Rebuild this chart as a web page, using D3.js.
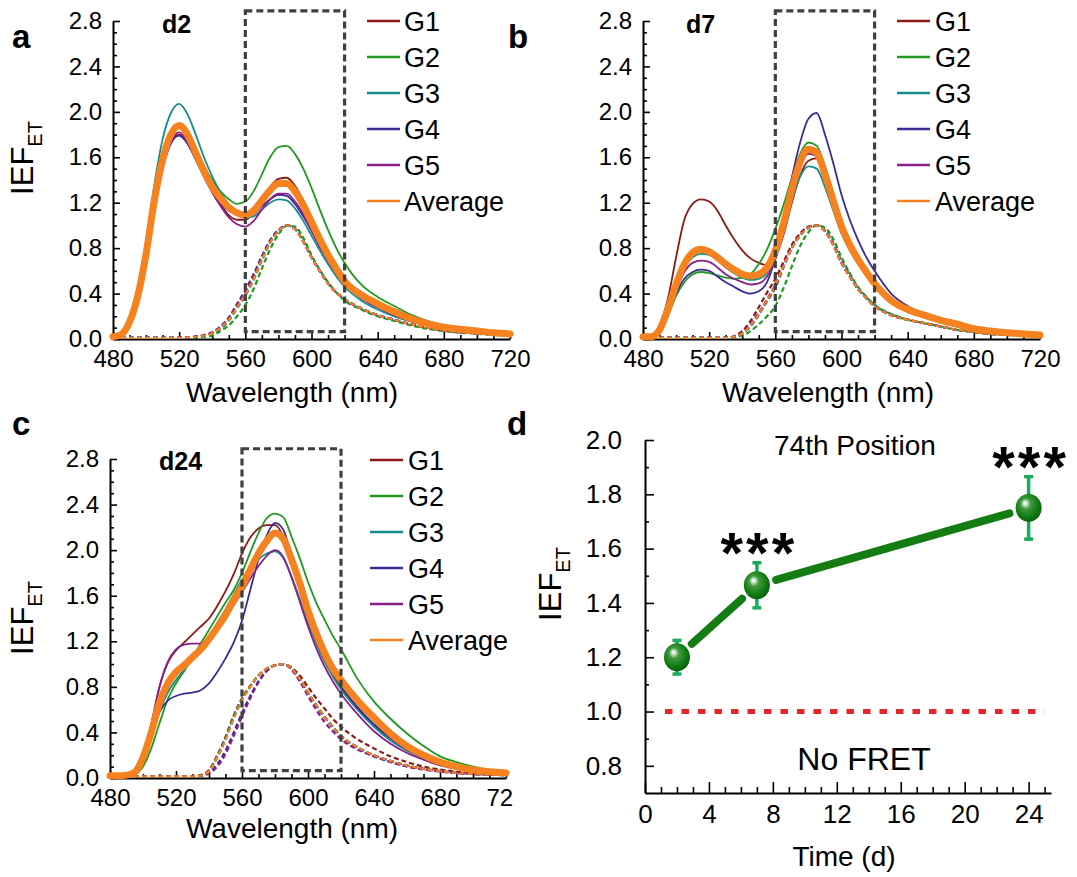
<!DOCTYPE html>
<html><head><meta charset="utf-8">
<script src="https://cdn.jsdelivr.net/npm/d3@7"></script>
<style>
body{margin:0;background:#fff}
svg{display:block}
text{font-family:"Liberation Sans",Arial,Helvetica,sans-serif;fill:#000}
</style>
</head><body>
<svg id="chart" width="1077" height="877"></svg>
<script>
// ---------- DATA ----------
const wavelength = [480,485,490,495,500,505,510,515,520,525,530,535,540,545,550,555,560,565,570,575,580,585,590,595,600,605,610,615,620,630,640,650,660,670,680,690,700,710,720];
const seriesNames = ["G1","G2","G3","G4","G5","Average"];
const seriesColors = ["#8c1a17","#1f9a1f","#158c8c","#3b2b96","#8a1f8c","#f5821f"];
const wlTicks = [480,520,560,600,640,680,720];
const ieTicks = [0.0,0.4,0.8,1.2,1.6,2.0,2.4,2.8];
const boxNm = [560,620];
const boxVal = [0.065,2.89];

// d2 emission (IEF_ET)
const d2_G1 = [0.02,0.04,0.15,0.37,0.73,1.18,1.52,1.74,1.80,1.74,1.60,1.45,1.31,1.19,1.09,1.05,1.05,1.11,1.22,1.34,1.41,1.42,1.35,1.22,1.06,0.90,0.76,0.63,0.53,0.39,0.30,0.23,0.175,0.13,0.10,0.08,0.065,0.05,0.04];
const d2_G2 = [0.02,0.03,0.13,0.35,0.72,1.18,1.55,1.78,1.86,1.80,1.66,1.52,1.40,1.30,1.23,1.19,1.21,1.30,1.45,1.60,1.69,1.70,1.63,1.50,1.33,1.14,0.96,0.80,0.67,0.48,0.37,0.29,0.215,0.16,0.12,0.09,0.07,0.055,0.045];
const d2_G3 = [0.02,0.04,0.16,0.42,0.85,1.36,1.76,1.99,2.07,1.98,1.80,1.60,1.43,1.29,1.18,1.11,1.07,1.08,1.14,1.20,1.23,1.22,1.15,1.04,0.91,0.78,0.66,0.55,0.46,0.34,0.26,0.20,0.155,0.12,0.095,0.075,0.06,0.05,0.04];
const d2_G4 = [0.02,0.04,0.14,0.36,0.72,1.16,1.50,1.72,1.79,1.72,1.58,1.43,1.30,1.20,1.13,1.11,1.08,1.10,1.17,1.23,1.27,1.26,1.19,1.08,0.95,0.81,0.69,0.58,0.49,0.36,0.28,0.21,0.16,0.12,0.095,0.075,0.06,0.05,0.04];
const d2_G5 = [0.02,0.04,0.14,0.36,0.72,1.17,1.52,1.74,1.82,1.74,1.59,1.43,1.29,1.17,1.07,1.01,0.99,1.04,1.14,1.23,1.28,1.28,1.21,1.10,0.96,0.82,0.69,0.58,0.49,0.36,0.28,0.21,0.16,0.12,0.095,0.075,0.06,0.05,0.04];
const d2_Avg = [0.02,0.04,0.15,0.38,0.75,1.22,1.58,1.80,1.88,1.80,1.64,1.48,1.34,1.24,1.16,1.11,1.09,1.13,1.22,1.31,1.37,1.37,1.30,1.18,1.03,0.88,0.74,0.62,0.51,0.39,0.31,0.24,0.18,0.135,0.105,0.085,0.07,0.055,0.045];
// d2 acceptor reference (dashed)
const d2_G1_ref = [0.01,0.01,0.01,0.01,0.01,0.01,0.01,0.01,0.01,0.015,0.02,0.03,0.05,0.10,0.17,0.28,0.39,0.53,0.70,0.85,0.95,1.00,0.97,0.86,0.72,0.60,0.49,0.41,0.35,0.27,0.21,0.17,0.13,0.10,0.075,0.06,0.05,0.04,0.035];
const d2_G2_ref = [0.01,0.01,0.01,0.01,0.01,0.01,0.01,0.01,0.01,0.01,0.015,0.02,0.03,0.07,0.12,0.20,0.30,0.44,0.62,0.79,0.92,0.995,0.99,0.89,0.74,0.61,0.50,0.41,0.34,0.26,0.20,0.16,0.12,0.09,0.07,0.055,0.045,0.035,0.03];
const d2_G3_ref = [0.01,0.01,0.01,0.01,0.01,0.01,0.01,0.01,0.01,0.015,0.02,0.03,0.05,0.09,0.16,0.27,0.38,0.52,0.69,0.85,0.95,1.00,0.97,0.86,0.72,0.60,0.49,0.41,0.35,0.27,0.21,0.17,0.13,0.10,0.075,0.06,0.05,0.04,0.035];
const d2_G4_ref = [0.01,0.01,0.01,0.01,0.01,0.01,0.01,0.01,0.01,0.015,0.02,0.035,0.06,0.11,0.19,0.31,0.43,0.57,0.73,0.87,0.96,1.00,0.97,0.86,0.72,0.60,0.49,0.41,0.35,0.27,0.21,0.17,0.13,0.10,0.075,0.06,0.05,0.04,0.035];
const d2_G5_ref = [0.01,0.01,0.01,0.01,0.01,0.01,0.01,0.01,0.01,0.015,0.02,0.03,0.055,0.10,0.18,0.30,0.41,0.55,0.71,0.86,0.95,1.00,0.97,0.86,0.72,0.60,0.49,0.41,0.35,0.27,0.21,0.17,0.13,0.10,0.075,0.06,0.05,0.04,0.035];
const d2_Avg_ref = [0.01,0.01,0.01,0.01,0.01,0.01,0.01,0.01,0.01,0.015,0.02,0.03,0.05,0.10,0.17,0.28,0.39,0.53,0.70,0.85,0.95,1.00,0.97,0.86,0.72,0.60,0.49,0.41,0.35,0.27,0.21,0.17,0.13,0.10,0.075,0.06,0.05,0.04,0.035];

// d7 emission
const d7_G1 = [0.02,0.03,0.12,0.35,0.72,1.05,1.19,1.23,1.21,1.13,1.00,0.88,0.78,0.71,0.67,0.65,0.72,0.92,1.20,1.44,1.57,1.59,1.46,1.24,1.00,0.83,0.68,0.56,0.46,0.32,0.24,0.19,0.15,0.11,0.085,0.065,0.05,0.04,0.03];
const d7_G2 = [0.02,0.02,0.06,0.20,0.38,0.50,0.57,0.59,0.58,0.56,0.54,0.53,0.54,0.57,0.66,0.79,0.97,1.18,1.42,1.63,1.73,1.70,1.52,1.28,1.04,0.86,0.72,0.60,0.50,0.35,0.27,0.21,0.165,0.13,0.095,0.075,0.06,0.045,0.035];
const d7_G3 = [0.02,0.02,0.08,0.25,0.46,0.63,0.72,0.75,0.74,0.69,0.63,0.58,0.54,0.52,0.53,0.58,0.72,0.95,1.22,1.43,1.52,1.50,1.34,1.13,0.93,0.78,0.66,0.56,0.47,0.34,0.26,0.21,0.165,0.13,0.095,0.075,0.06,0.045,0.035];
const d7_G4 = [0.02,0.02,0.07,0.22,0.40,0.53,0.59,0.61,0.60,0.55,0.50,0.46,0.42,0.40,0.42,0.50,0.72,1.05,1.42,1.73,1.94,1.99,1.80,1.55,1.27,1.05,0.87,0.72,0.60,0.40,0.29,0.22,0.17,0.13,0.10,0.075,0.06,0.045,0.035];
const d7_G5 = [0.02,0.02,0.08,0.24,0.43,0.59,0.67,0.69,0.68,0.63,0.57,0.53,0.50,0.48,0.49,0.55,0.70,0.96,1.27,1.52,1.63,1.61,1.44,1.21,0.99,0.83,0.69,0.58,0.48,0.34,0.26,0.21,0.165,0.13,0.095,0.075,0.06,0.045,0.035];
const d7_Avg = [0.02,0.02,0.08,0.26,0.48,0.66,0.76,0.79,0.77,0.72,0.66,0.61,0.57,0.555,0.57,0.63,0.78,1.02,1.32,1.56,1.67,1.64,1.45,1.22,0.99,0.83,0.70,0.59,0.49,0.34,0.26,0.21,0.165,0.13,0.09,0.07,0.055,0.045,0.035];
// d7 acceptor reference
const d7_G1_ref = [0.01,0.01,0.01,0.01,0.01,0.01,0.01,0.01,0.01,0.01,0.01,0.025,0.07,0.16,0.28,0.41,0.53,0.68,0.83,0.93,0.99,1.00,0.95,0.83,0.67,0.55,0.44,0.36,0.29,0.21,0.17,0.14,0.11,0.08,0.06,0.045,0.04,0.035,0.03];
const d7_G2_ref = [0.01,0.01,0.01,0.01,0.01,0.01,0.01,0.01,0.01,0.01,0.01,0.015,0.03,0.07,0.13,0.20,0.29,0.45,0.64,0.82,0.94,1.00,0.98,0.88,0.72,0.58,0.46,0.37,0.30,0.22,0.17,0.14,0.11,0.08,0.06,0.045,0.04,0.035,0.03];
const d7_G3_ref = [0.01,0.01,0.01,0.01,0.01,0.01,0.01,0.01,0.01,0.01,0.01,0.02,0.05,0.11,0.21,0.33,0.45,0.63,0.80,0.91,0.98,1.00,0.96,0.85,0.69,0.57,0.45,0.37,0.30,0.22,0.17,0.14,0.11,0.08,0.06,0.045,0.04,0.035,0.03];
const d7_G4_ref = [0.01,0.01,0.01,0.01,0.01,0.01,0.01,0.01,0.01,0.01,0.01,0.02,0.05,0.12,0.22,0.34,0.46,0.64,0.80,0.91,0.98,1.00,0.95,0.83,0.67,0.55,0.44,0.36,0.29,0.21,0.17,0.14,0.11,0.08,0.06,0.045,0.04,0.035,0.03];
const d7_G5_ref = [0.01,0.01,0.01,0.01,0.01,0.01,0.01,0.01,0.01,0.01,0.01,0.02,0.055,0.13,0.23,0.35,0.48,0.65,0.81,0.92,0.98,1.00,0.95,0.83,0.67,0.55,0.44,0.36,0.29,0.21,0.17,0.14,0.11,0.08,0.06,0.045,0.04,0.035,0.03];
const d7_Avg_ref = [0.01,0.01,0.01,0.01,0.01,0.01,0.01,0.01,0.01,0.01,0.01,0.02,0.05,0.12,0.22,0.34,0.47,0.64,0.80,0.91,0.98,1.00,0.95,0.83,0.67,0.55,0.44,0.36,0.29,0.21,0.17,0.14,0.11,0.08,0.06,0.045,0.04,0.035,0.03];

// d24 emission
const d24_G1 = [0.02,0.02,0.03,0.07,0.22,0.47,0.80,1.01,1.12,1.19,1.26,1.33,1.40,1.51,1.64,1.79,1.97,2.11,2.19,2.22,2.22,2.12,1.90,1.66,1.42,1.22,1.05,0.91,0.80,0.62,0.47,0.35,0.25,0.18,0.13,0.09,0.065,0.05,0.04];
const d24_G2 = [0.02,0.02,0.02,0.03,0.10,0.26,0.48,0.69,0.83,0.94,1.06,1.18,1.30,1.42,1.54,1.65,1.80,1.98,2.15,2.28,2.32,2.29,2.12,1.93,1.72,1.54,1.39,1.25,1.13,0.87,0.67,0.52,0.39,0.28,0.19,0.14,0.10,0.07,0.055];
const d24_G3 = [0.02,0.02,0.025,0.05,0.15,0.34,0.58,0.75,0.86,0.95,1.04,1.13,1.24,1.36,1.48,1.61,1.74,1.84,1.92,1.97,1.99,1.93,1.77,1.57,1.36,1.18,1.02,0.89,0.78,0.60,0.45,0.33,0.24,0.17,0.12,0.09,0.065,0.05,0.04];
const d24_G4 = [0.02,0.02,0.025,0.06,0.18,0.38,0.58,0.68,0.72,0.74,0.75,0.77,0.83,0.93,1.05,1.19,1.38,1.65,1.92,2.13,2.24,2.18,1.95,1.70,1.45,1.24,1.07,0.93,0.81,0.62,0.47,0.35,0.25,0.18,0.13,0.09,0.065,0.05,0.04];
const d24_G5 = [0.02,0.02,0.03,0.07,0.22,0.47,0.80,1.02,1.13,1.17,1.18,1.18,1.22,1.31,1.41,1.52,1.63,1.75,1.86,1.95,2.00,1.94,1.76,1.55,1.33,1.14,0.98,0.85,0.74,0.56,0.41,0.30,0.22,0.16,0.11,0.08,0.06,0.045,0.035];
const d24_Avg = [0.02,0.02,0.025,0.05,0.18,0.40,0.66,0.83,0.93,0.99,1.06,1.13,1.22,1.32,1.43,1.56,1.68,1.83,1.97,2.08,2.15,2.10,1.92,1.71,1.47,1.27,1.10,0.96,0.86,0.68,0.53,0.39,0.28,0.20,0.14,0.10,0.07,0.055,0.045];
// d24 acceptor reference
const d24_G1_ref = [0.015,0.015,0.015,0.015,0.015,0.015,0.015,0.015,0.015,0.015,0.015,0.025,0.07,0.20,0.36,0.55,0.70,0.81,0.90,0.96,0.99,1.00,0.97,0.90,0.80,0.70,0.61,0.52,0.45,0.34,0.26,0.19,0.14,0.10,0.075,0.055,0.045,0.035,0.03];
const d24_G2_ref = [0.015,0.015,0.015,0.015,0.015,0.015,0.015,0.015,0.015,0.015,0.015,0.02,0.06,0.18,0.34,0.53,0.69,0.80,0.90,0.96,0.99,1.00,0.96,0.87,0.75,0.64,0.54,0.45,0.37,0.27,0.20,0.15,0.11,0.08,0.06,0.045,0.035,0.03,0.025];
const d24_G3_ref = [0.015,0.015,0.015,0.015,0.015,0.015,0.015,0.015,0.015,0.015,0.015,0.02,0.06,0.19,0.35,0.54,0.69,0.80,0.90,0.96,0.99,1.00,0.96,0.86,0.74,0.63,0.53,0.44,0.36,0.26,0.19,0.14,0.105,0.08,0.06,0.045,0.035,0.03,0.025];
const d24_G4_ref = [0.015,0.015,0.015,0.015,0.015,0.015,0.015,0.015,0.015,0.015,0.015,0.02,0.045,0.12,0.24,0.40,0.57,0.72,0.85,0.94,0.99,1.00,0.96,0.87,0.75,0.64,0.54,0.45,0.37,0.27,0.20,0.15,0.11,0.08,0.06,0.045,0.035,0.03,0.025];
const d24_G5_ref = [0.015,0.015,0.015,0.015,0.015,0.015,0.015,0.015,0.015,0.015,0.015,0.02,0.04,0.10,0.21,0.37,0.54,0.70,0.84,0.94,0.99,1.00,0.95,0.85,0.72,0.60,0.49,0.41,0.34,0.25,0.19,0.14,0.10,0.075,0.055,0.045,0.035,0.03,0.025];
const d24_Avg_ref = [0.015,0.015,0.015,0.015,0.015,0.015,0.015,0.015,0.015,0.015,0.015,0.02,0.06,0.18,0.33,0.52,0.68,0.80,0.90,0.96,0.99,1.00,0.96,0.87,0.75,0.64,0.54,0.45,0.37,0.27,0.20,0.15,0.11,0.08,0.06,0.045,0.035,0.03,0.025];

// panel d: 74th position time course
const timeDays = [2,7,24];
const timeIEF = [1.20,1.465,1.75];
const timeErr = [0.062,0.083,0.115];
const timeSig = ["","***","***"];
const noFretLevel = 1.0;
const noFretSpan = [1.25,25];
const timeTicks = [0,4,8,12,16,20,24];
const timeIEFTicks = [0.8,1.0,1.2,1.4,1.6,1.8,2.0];

// ---------- DRAW ----------
const svg = d3.select("#chart");
const defs = svg.append("defs");
const fmt1 = d3.format(".1f");

const panels = [
  {tag:"a", day:"d2", xr:[113,510], yr:[339,21], em:[d2_G1,d2_G2,d2_G3,d2_G4,d2_G5,d2_Avg],
   ref:[d2_G1_ref,d2_G2_ref,d2_G3_ref,d2_G4_ref,d2_G5_ref,d2_Avg_ref],
   leg:{x0:367,x1:400,tx:404,y0:21}, tagPos:[12,48], dayPos:[162,33], xl:[292,402], yl:[33,158], clip:null},
  {tag:"b", day:"d7", xr:[643,1040], yr:[339,21], em:[d7_G1,d7_G2,d7_G3,d7_G4,d7_G5,d7_Avg],
   ref:[d7_G1_ref,d7_G2_ref,d7_G3_ref,d7_G4_ref,d7_G5_ref,d7_Avg_ref],
   leg:{x0:897,x1:930,tx:935,y0:21}, tagPos:[508,48], dayPos:[686,33], xl:[828,402], yl:null, clip:null},
  {tag:"c", day:"d24", xr:[110,506], yr:[778,459], em:[d24_G1,d24_G2,d24_G3,d24_G4,d24_G5,d24_Avg],
   ref:[d24_G1_ref,d24_G2_ref,d24_G3_ref,d24_G4_ref,d24_G5_ref,d24_Avg_ref],
   leg:{x0:370,x1:403,tx:408,y0:460}, tagPos:[12,435], dayPos:[159,470], xl:[292,838], yl:[33,618], clip:513}
];

function styleAxis(g, fs){
  g.select(".domain").attr("stroke","#000").attr("stroke-width",2);
  g.selectAll(".tick line").attr("stroke","#000").attr("stroke-width",1.6);
  g.selectAll(".tick text").attr("font-size",fs).attr("fill","#000")
    .style("font-family",'"Liberation Sans",Arial,sans-serif');
}

function yLabel(x, y){
  const t = svg.append("text").attr("transform",`translate(${x},${y}) rotate(-90)`)
    .attr("text-anchor","middle").attr("font-size",31);
  t.append("tspan").text("IEF");
  t.append("tspan").attr("dy",9).attr("font-size",20).text("ET");
}

panels.forEach((p,pi)=>{
  const g = svg.append("g");
  const x = d3.scaleLinear().domain([480,720]).range(p.xr);
  const y = d3.scaleLinear().domain([0,2.8]).range(p.yr);
  const minorWl = d3.range(490,720,10).filter(v=>v%40!==0);
  const minorY = d3.range(1,28).map(v=>v/10).filter((v,i)=>(i+1)%4!==0);

  // axes
  const gx = g.append("g").attr("transform",`translate(0,${y(0)})`);
  if(p.clip){
    defs.append("clipPath").attr("id","clip"+p.tag)
      .append("rect").attr("x",0).attr("y",-20).attr("width",p.clip).attr("height",70);
    gx.attr("clip-path",`url(#clip${p.tag})`);
  }
  gx.call(d3.axisBottom(x).tickValues(wlTicks).tickFormat(d3.format("d")).tickSizeInner(-7).tickSizeOuter(0).tickPadding(11));
  styleAxis(gx,24);
  const gxm = g.append("g").attr("transform",`translate(0,${y(0)})`)
    .call(d3.axisBottom(x).tickValues(minorWl).tickFormat("").tickSizeInner(-4).tickSizeOuter(0));
  styleAxis(gxm,24); gxm.select(".domain").remove();

  const gy = g.append("g").attr("transform",`translate(${x(480)},0)`)
    .call(d3.axisLeft(y).tickValues(ieTicks).tickFormat(fmt1).tickSizeInner(-7).tickSizeOuter(0).tickPadding(11));
  styleAxis(gy,24);
  const gym = g.append("g").attr("transform",`translate(${x(480)},0)`)
    .call(d3.axisLeft(y).tickValues(minorY).tickFormat("").tickSizeInner(-4).tickSizeOuter(0));
  styleAxis(gym,24); gym.select(".domain").remove();

  const line = d3.line().x((d,i)=>x(wavelength[i])).y(d=>y(d)).curve(d3.curveMonotoneX);

  // acceptor reference (dashed)
  p.ref.forEach((s,i)=>{
    g.append("path").attr("d",line(s)).attr("fill","none").attr("stroke",seriesColors[i])
      .attr("stroke-width",2.2).attr("stroke-dasharray","5,3");
  });
  // emission G1..G5
  p.em.slice(0,5).forEach((s,i)=>{
    g.append("path").attr("d",line(s)).attr("fill","none").attr("stroke",seriesColors[i])
      .attr("stroke-width",1.8).attr("stroke-linejoin","round");
  });
  // average
  g.append("path").attr("d",line(p.em[5])).attr("fill","none").attr("stroke",seriesColors[5])
    .attr("stroke-width",7).attr("stroke-linejoin","round").attr("stroke-linecap","round");

  // dashed box
  g.append("rect").attr("x",x(boxNm[0])).attr("y",y(boxVal[1]))
    .attr("width",x(boxNm[1])-x(boxNm[0])).attr("height",y(boxVal[0])-y(boxVal[1]))
    .attr("fill","none").attr("stroke","#404040").attr("stroke-width",3.2).attr("stroke-dasharray","7,4");

  // legend
  seriesNames.forEach((n,i)=>{
    const ly = p.leg.y0 + i*36;
    g.append("line").attr("x1",p.leg.x0).attr("x2",p.leg.x1).attr("y1",ly).attr("y2",ly)
      .attr("stroke",seriesColors[i]).attr("stroke-width",2.6);
    g.append("text").attr("x",p.leg.tx).attr("y",ly).attr("dy","0.38em").attr("font-size",27).text(n);
  });

  // labels
  g.append("text").attr("x",p.tagPos[0]).attr("y",p.tagPos[1]).attr("font-size",33).attr("font-weight","bold").text(p.tag);
  g.append("text").attr("x",p.dayPos[0]).attr("y",p.dayPos[1]).attr("font-size",25).attr("font-weight","bold").text(p.day);
  g.append("text").attr("x",p.xl[0]).attr("y",p.xl[1]).attr("text-anchor","middle").attr("font-size",28).text("Wavelength (nm)");
  if(p.yl) yLabel(p.yl[0],p.yl[1]);
});

// ---------- panel d ----------
(function(){
  const g = svg.append("g");
  const x = d3.scaleLinear().domain([0,25.4]).range([645,1051]);
  const y = d3.scaleLinear().domain([0.7,2.0]).range([793,440]);

  const gx = g.append("g").attr("transform",`translate(0,${y(0.7)})`)
    .call(d3.axisBottom(x).tickValues(timeTicks).tickFormat(d3.format("d")).tickSizeInner(-11).tickSizeOuter(0).tickPadding(12));
  styleAxis(gx,26);
  const gxm = g.append("g").attr("transform",`translate(0,${y(0.7)})`)
    .call(d3.axisBottom(x).tickValues(d3.range(1,26).filter(v=>v%4!==0)).tickFormat("").tickSizeInner(-6).tickSizeOuter(0));
  styleAxis(gxm,26); gxm.select(".domain").remove();

  const gy = g.append("g").attr("transform",`translate(${x(0)},0)`)
    .call(d3.axisLeft(y).tickValues(timeIEFTicks).tickFormat(fmt1).tickSizeInner(-9).tickSizeOuter(0).tickPadding(23));
  styleAxis(gy,26);
  const gym = g.append("g").attr("transform",`translate(${x(0)},0)`)
    .call(d3.axisLeft(y).tickValues([0.9,1.1,1.3,1.5,1.7,1.9]).tickFormat("").tickSizeInner(-4).tickSizeOuter(0));
  styleAxis(gym,26); gym.select(".domain").remove();

  // no FRET reference
  g.append("line").attr("x1",x(noFretSpan[0])).attr("x2",x(noFretSpan[1]))
    .attr("y1",y(noFretLevel)).attr("y2",y(noFretLevel))
    .attr("stroke","#e3262b").attr("stroke-width",5).attr("stroke-dasharray","7.5,9");

  // connecting segments with gaps at markers
  for(let i=0;i<timeDays.length-1;i++){
    const x0=x(timeDays[i]), y0=y(timeIEF[i]), x1=x(timeDays[i+1]), y1=y(timeIEF[i+1]);
    const L=Math.hypot(x1-x0,y1-y0), ux=(x1-x0)/L, uy=(y1-y0)/L, gap=20;
    g.append("line").attr("x1",x0+ux*gap).attr("y1",y0+uy*gap).attr("x2",x1-ux*gap).attr("y2",y1-uy*gap)
      .attr("stroke","#137d13").attr("stroke-width",8).attr("stroke-linecap","round");
  }

  // error bars
  timeDays.forEach((d,i)=>{
    const cx=x(d), top=y(timeIEF[i]+timeErr[i]), bot=y(timeIEF[i]-timeErr[i]);
    g.append("line").attr("x1",cx).attr("x2",cx).attr("y1",top).attr("y2",bot).attr("stroke","#1aab5c").attr("stroke-width",3.5);
    [top,bot].forEach(yy=>g.append("line").attr("x1",cx-4.5).attr("x2",cx+4.5).attr("y1",yy).attr("y2",yy)
      .attr("stroke","#1aab5c").attr("stroke-width",3.5));
  });

  // markers
  const grad = defs.append("radialGradient").attr("id","ball")
    .attr("cx","0.45").attr("cy","0.42").attr("r","0.6").attr("fx","0.36").attr("fy","0.32");
  [["0%","#ffffff"],["12%","#cfe6cf"],["32%","#3f9a3f"],["70%","#137d13"],["100%","#0b600d"]]
    .forEach(s=>grad.append("stop").attr("offset",s[0]).attr("stop-color",s[1]));
  timeDays.forEach((d,i)=>{
    g.append("ellipse").attr("cx",x(d)).attr("cy",y(timeIEF[i])).attr("rx",13).attr("ry",14).attr("fill","url(#ball)");
  });

  // significance marks above error bars
  timeDays.forEach((d,i)=>{
    if(!timeSig[i]) return;
    g.append("text").attr("x",x(d)+2).attr("y",y(timeIEF[i]+timeErr[i])+10)
      .attr("text-anchor","middle").attr("font-size",58).attr("font-weight","bold")
      .attr("letter-spacing",3).text(timeSig[i]);
  });

  g.append("text").attr("x",855).attr("y",455).attr("text-anchor","middle").attr("font-size",28).text("74th Position");
  g.append("text").attr("x",864).attr("y",770).attr("text-anchor","middle").attr("font-size",32).text("No FRET");
  g.append("text").attr("x",844).attr("y",866).attr("text-anchor","middle").attr("font-size",28).text("Time (d)");
  g.append("text").attr("x",507).attr("y",435).attr("font-size",33).attr("font-weight","bold").text("d");
  yLabel(561,584);
})();
</script>
</body></html>
